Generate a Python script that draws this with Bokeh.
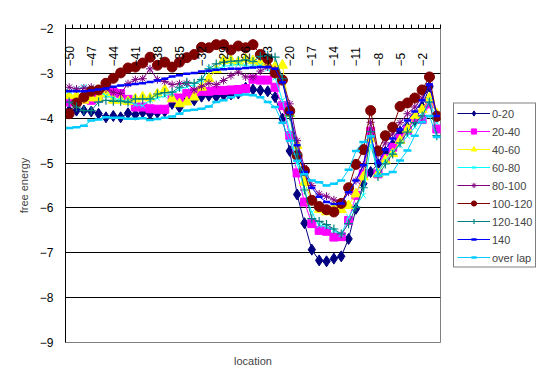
import math
from bokeh.plotting import figure
from bokeh.models import (FixedTicker, LinearAxis, Legend, LegendItem, Range1d,
                          ColumnDataSource, Grid)
from bokeh.embed import file_html
from bokeh.resources import INLINE

locations = list(range(-50, 1))
x_tick_values = list(range(-50, 0, 3))
y_tick_values = list(range(-9, -1))

s_0_20 = [-3.83, -3.83, -3.83, -3.85, -3.90, -3.98, -3.95, -3.98, -3.89, -3.92,
          -3.87, -3.90, -3.88, -3.85, -3.68, -3.76, -3.55, -3.60, -3.52, -3.50,
          -3.52, -3.49, -3.47, -3.45, -3.32, -3.36, -3.38, -3.40, -3.53, -4.01,
          -4.73, -5.70, -6.34, -6.93, -7.17, -7.19, -7.13, -7.08, -6.69, -6.02,
          -5.46, -5.20, -5.02, -4.75, -4.60, -4.30, -4.20, -4.05, -3.75, -3.30, -3.95]
s_20_40 = [-3.64, -3.62, -3.58, -3.60, -3.55, -3.42, -3.42, -3.45, -3.58, -3.75,
           -3.75, -3.79, -3.80, -3.80, -3.55, -3.55, -3.45, -3.42, -3.40, -3.40,
           -3.38, -3.38, -3.37, -3.36, -3.34, -3.13, -3.15, -3.15, -3.31, -3.72,
           -4.39, -5.22, -5.87, -6.35, -6.50, -6.52, -6.65, -6.64, -6.28, -5.72,
           -5.24, -4.29, -5.24, -4.90, -4.65, -4.45, -4.27, -4.01, -4.03, -3.68, -4.24]
s_40_60 = [-3.50, -3.50, -3.60, -3.55, -3.55, -3.46, -3.60, -3.60, -3.63, -3.57,
           -3.53, -3.55, -3.46, -3.37, -3.57, -3.68, -3.64, -3.53, -3.31, -3.12,
           -2.92, -2.71, -2.71, -2.75, -2.68, -2.72, -2.76, -2.80, -2.85, -2.82,
           -3.90, -4.61, -5.43, -5.85, -6.04, -6.09, -5.98, -6.04, -5.95, -5.69,
           -5.31, -4.46, -5.24, -4.94, -4.79, -4.50, -4.25, -3.94, -3.81, -3.55, -3.90]
s_60_80 = [-3.40, -3.35, -3.30, -3.32, -3.40, -3.50, -3.55, -3.60, -3.62, -3.70,
           -3.72, -3.60, -3.55, -3.50, -3.45, -3.35, -3.30, -3.25, -3.15, -2.88,
           -2.90, -2.85, -2.82, -2.80, -2.83, -2.85, -2.82, -2.90, -3.10, -3.60,
           -4.30, -5.00, -5.60, -6.10, -6.39, -6.42, -6.50, -6.59, -6.20, -5.95,
           -5.72, -4.60, -5.20, -4.95, -4.75, -4.60, -4.40, -4.20, -3.95, -3.60, -4.10]
s_80_100 = [-3.31, -3.35, -3.33, -3.31, -3.37, -3.35, -3.42, -3.45, -3.23, -3.14,
            -3.12, -2.90, -3.14, -3.18, -3.25, -3.23, -3.22, -3.37, -3.29, -3.22,
            -3.25, -3.16, -3.05, -2.97, -3.08, -3.08, -2.95, -2.86, -2.92, -3.15,
            -3.68, -4.50, -5.10, -5.50, -5.69, -5.74, -5.82, -5.87, -5.65, -5.39,
            -5.05, -4.09, -4.80, -4.55, -4.35, -4.10, -3.90, -3.75, -3.55, -3.27, -3.90]
s_100_120 = [-3.90, -3.66, -3.53, -3.40, -3.37, -3.22, -3.11, -2.99, -2.88, -2.86,
             -2.77, -2.64, -2.82, -2.75, -2.86, -2.75, -2.65, -2.58, -2.42, -2.43,
             -2.36, -2.36, -2.48, -2.39, -2.43, -2.36, -2.58, -2.68, -2.99, -3.15,
             -3.84, -4.83, -5.17, -5.83, -5.97, -6.04, -6.09, -5.90, -5.55, -5.03,
             -4.70, -3.83, -4.73, -4.39, -4.20, -3.74, -3.66, -3.55, -3.37, -3.08, -3.96]
s_120_140 = [-3.64, -3.75, -3.83, -3.83, -3.64, -3.60, -3.62, -3.62, -3.64, -3.57,
             -3.57, -3.57, -3.46, -3.43, -3.42, -3.31, -3.20, -3.22, -3.14, -2.90,
             -2.79, -2.75, -2.73, -2.72, -2.70, -2.74, -2.62, -2.60, -2.64, -3.12,
             -3.95, -4.80, -5.60, -6.24, -6.30, -6.37, -6.47, -6.58, -6.35, -5.98,
             -5.55, -4.30, -5.30, -5.02, -4.80, -4.55, -4.31, -4.10, -3.95, -3.64, -4.39]
s_140 = [-3.40, -3.40, -3.40, -3.38, -3.36, -3.34, -3.30, -3.27, -3.26, -3.24,
         -3.22, -3.19, -3.16, -3.12, -3.07, -3.04, -3.01, -2.99, -2.96, -2.94,
         -2.92, -2.91, -2.90, -2.90, -2.88, -2.87, -2.86, -2.86, -2.90, -3.20,
         -3.87, -4.60, -5.20, -5.55, -5.75, -5.87, -5.91, -5.90, -5.65, -5.39,
         -5.05, -4.40, -5.00, -4.70, -4.45, -4.25, -4.05, -3.85, -3.60, -3.25, -3.95]
s_overlap = [-4.22, -4.20, -4.17, -4.05, -4.03, -3.98, -3.99, -3.99, -4.01, -4.01,
             -4.00, -4.04, -4.02, -3.99, -3.96, -3.90, -3.83, -3.81, -3.79, -3.74,
             -3.64, -3.60, -3.53, -3.49, -3.47, -3.49, -3.53, -3.64, -3.75, -4.10,
             -4.50, -4.95, -5.25, -5.39, -5.43, -5.50, -5.46, -5.39, -5.15, -4.73,
             -4.53, -4.40, -5.28, -5.25, -5.20, -4.94, -4.72, -4.39, -4.09, -3.95, -4.42]

series_names = ["0-20", "20-40", "40-60", "60-80", "80-100", "100-120", "120-140", "140", "over lap"]
series_values = [s_0_20, s_20_40, s_40_60, s_60_80, s_80_100, s_100_120, s_120_140, s_140, s_overlap]

styles = [
    dict(color="#000080", marker="diamond", size=11, lw=1),
    dict(color="#FF00FF", marker="square", size=8, lw=1),
    dict(color="#FFFF00", marker="triangle", size=10, lw=1),
    dict(color="#00FFFF", marker="x", size=7, lw=1),
    dict(color="#800080", marker="asterisk", size=8, lw=1),
    dict(color="#800000", marker="circle", size=10, lw=1),
    dict(color="#008080", marker="cross", size=9, lw=1.2),
    dict(color="#0000FF", marker="dash", size=7, lw=2.5),
    dict(color="#00CCFF", marker="dash", size=8, lw=2.5),
]

FONT = "Liberation Sans"

p = figure(frame_width=375, frame_height=314, output_backend="svg", toolbar_location=None,
           x_range=Range1d(-50.5, 0.5), y_range=Range1d(-9, -2),
           x_axis_location=None, y_axis_location=None,
           min_border_left=65, min_border_right=60, min_border_top=28, min_border_bottom=40)
p.outline_line_color = "#808080"
p.outline_line_width = 1
p.background_fill_color = "white"
p.border_fill_color = "white"
for g in list(p.xgrid) + list(p.ygrid):
    g.visible = False

# y axis
yaxis = LinearAxis(ticker=FixedTicker(ticks=y_tick_values), axis_label="free energy")
yaxis.major_tick_out = 0
yaxis.major_tick_in = 0
yaxis.minor_tick_out = 0
yaxis.minor_tick_in = 0
yaxis.major_label_standoff = 12
yaxis.major_label_text_font = FONT
yaxis.major_label_text_font_size = "12px"
yaxis.major_label_text_color = "black"
yaxis.axis_label_text_font = FONT
yaxis.axis_label_text_font_size = "11px"
yaxis.axis_label_text_font_style = "normal"
yaxis.axis_label_standoff = 7
yaxis.axis_line_color = "black"
p.add_layout(yaxis, "left")

# x axis at top with labels inside the plot area
xaxis = LinearAxis(ticker=FixedTicker(ticks=x_tick_values,
                                      minor_ticks=[v - 0.5 for v in locations] + [0.5]))
xaxis.major_tick_out = 0
xaxis.major_tick_in = 0
xaxis.minor_tick_out = 4
xaxis.minor_tick_in = 0
xaxis.minor_tick_line_color = "black"
xaxis.major_label_orientation = math.pi / 2
xaxis.major_label_standoff = -42
xaxis.major_label_text_font = FONT
xaxis.major_label_text_font_size = "12px"
xaxis.major_label_text_color = "black"
xaxis.axis_line_color = "black"
p.add_layout(xaxis, "above")

# bottom axis only for title
baxis = LinearAxis(ticker=FixedTicker(ticks=[]), axis_label="location")
baxis.axis_line_color = None
baxis.major_tick_line_color = None
baxis.minor_tick_line_color = None
baxis.axis_label_text_font = FONT
baxis.axis_label_text_font_size = "11px"
baxis.axis_label_text_font_style = "normal"
baxis.axis_label_standoff = 12
p.add_layout(baxis, "below")

grid = Grid(dimension=1, ticker=FixedTicker(ticks=list(range(-8, -2))))
grid.grid_line_color = "black"
grid.grid_line_width = 1
p.add_layout(grid)

items = []
for name, vals, st in zip(series_names, series_values, styles):
    src = ColumnDataSource(dict(x=locations, y=vals))
    r1 = p.line("x", "y", source=src, line_color=st["color"], line_width=1)
    if st["marker"] in ("x", "asterisk", "cross", "dash"):
        r2 = p.scatter("x", "y", source=src, marker=st["marker"], size=st["size"],
                       line_color=st["color"], line_width=st["lw"])
    else:
        r2 = p.scatter("x", "y", source=src, marker=st["marker"], size=st["size"],
                       fill_color=st["color"], line_color=st["color"], line_width=1)
    items.append(LegendItem(label=name, renderers=[r1, r2]))

legend = Legend(items=items, location="center_left")
legend.border_line_color = "black"
legend.border_line_width = 1
legend.background_fill_color = "white"
legend.background_fill_alpha = 1
legend.label_text_font = FONT
legend.label_text_font_size = "11px"
legend.glyph_width = 33
legend.glyph_height = 13
legend.label_height = 13
legend.spacing = 5
legend.padding = 3
legend.margin = 13
legend.label_standoff = 2
p.add_layout(legend, "right")

open("out.html", "w").write(file_html(p, INLINE))
